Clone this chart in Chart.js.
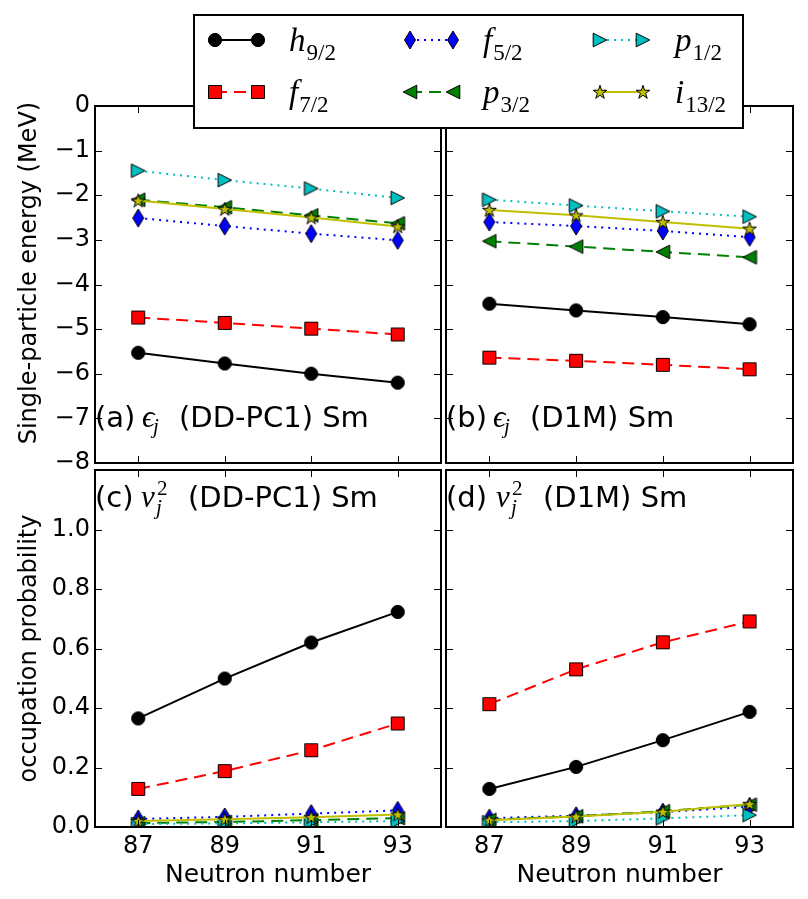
<!DOCTYPE html>
<html><head><meta charset="utf-8">
<script src="https://cdn.jsdelivr.net/npm/chart.js@4"></script>
<style>
html,body{margin:0;padding:0;background:#fff;width:808px;height:899px;overflow:hidden}
canvas{position:absolute;left:0;top:0}
</style></head><body>
<canvas id="pa" width="808" height="899"></canvas>
<canvas id="pb" width="808" height="899"></canvas>
<canvas id="pc" width="808" height="899"></canvas>
<canvas id="pd" width="808" height="899"></canvas>
<script>
// ---------------- data ----------------
const neutrons = [87, 89, 91, 93];
const xTicks = [87, 89, 91, 93];
const energyTicks = [-8, -7, -6, -5, -4, -3, -2, -1, 0];
const occTicks = [0, 0.2, 0.4, 0.6, 0.8, 1.0];
const legendMain = ['h', 'f', 'f', 'p', 'p', 'i'];
const legendSub = ['9/2', '7/2', '5/2', '3/2', '1/2', '13/2'];
const panelTags = ['(a)', '(b)', '(c)', '(d)'];
const panelModels = ['(DD-PC1) Sm', '(D1M) Sm', '(DD-PC1) Sm', '(D1M) Sm'];
const energyTitle = 'Single-particle energy (MeV)';
const occTitle = 'occupation probability';
const xTitle = 'Neutron number';

// (a) single-particle energies, DD-PC1
const eDDPC1_h92  = [-5.53, -5.77, -6.00, -6.20];
const eDDPC1_f72  = [-4.74, -4.86, -4.99, -5.12];
const eDDPC1_f52  = [-2.51, -2.69, -2.86, -3.01];
const eDDPC1_p32  = [-2.10, -2.27, -2.45, -2.63];
const eDDPC1_p12  = [-1.45, -1.66, -1.85, -2.06];
const eDDPC1_i132 = [-2.12, -2.31, -2.50, -2.70];
// (b) single-particle energies, D1M
const eD1M_h92  = [-4.43, -4.58, -4.73, -4.89];
const eD1M_f72  = [-5.64, -5.71, -5.80, -5.90];
const eD1M_f52  = [-2.60, -2.69, -2.80, -2.94];
const eD1M_p32  = [-3.03, -3.15, -3.27, -3.39];
const eD1M_p12  = [-2.10, -2.23, -2.36, -2.48];
const eD1M_i132 = [-2.33, -2.45, -2.60, -2.75];
// (c) occupation probabilities, DD-PC1
const vDDPC1_h92  = [0.365, 0.499, 0.620, 0.723];
const vDDPC1_f72  = [0.128, 0.188, 0.258, 0.348];
const vDDPC1_f52  = [0.027, 0.034, 0.045, 0.056];
const vDDPC1_p32  = [0.013, 0.017, 0.023, 0.030];
const vDDPC1_p12  = [0.010, 0.012, 0.016, 0.020];
const vDDPC1_i132 = [0.020, 0.026, 0.033, 0.042];
// (d) occupation probabilities, D1M
const vD1M_h92  = [0.128, 0.202, 0.292, 0.387];
const vD1M_f72  = [0.413, 0.530, 0.621, 0.691];
const vD1M_f52  = [0.030, 0.038, 0.050, 0.068];
const vD1M_p32  = [0.024, 0.036, 0.053, 0.075];
const vD1M_p12  = [0.016, 0.020, 0.029, 0.040];
const vD1M_i132 = [0.023, 0.035, 0.051, 0.077];

// ---------------- markers ----------------
function mk(w, h, draw) {
  const c = document.createElement('canvas');
  c.width = w; c.height = h;
  const g = c.getContext('2d');
  g.lineWidth = 1; g.strokeStyle = '#000'; g.lineJoin = 'miter';
  draw(g, w / 2, h / 2);
  return c;
}
function poly(g, pts, fill) {
  g.beginPath(); g.moveTo(pts[0][0], pts[0][1]);
  for (let i = 1; i < pts.length; i++) g.lineTo(pts[i][0], pts[i][1]);
  g.closePath(); g.fillStyle = fill; g.fill(); g.stroke();
}
const mCircle = mk(16, 16, (g, x, y) => { g.beginPath(); g.arc(x, y, 6.6, 0, Math.PI * 2); g.fillStyle = '#000'; g.fill(); g.stroke(); });
const mSquare = mk(16, 16, (g, x, y) => poly(g, [[x-6.5,y-6.5],[x+6.5,y-6.5],[x+6.5,y+6.5],[x-6.5,y+6.5]], '#ff0000'));
const mDiamond = mk(14, 20, (g, x, y) => poly(g, [[x,y-9],[x+5.5,y],[x,y+9],[x-5.5,y]], '#0000ff'));
const mTriL = mk(16, 16, (g, x, y) => poly(g, [[x-6.8,y],[x+6.8,y-6.8],[x+6.8,y+6.8]], '#008000'));
const mTriR = mk(16, 16, (g, x, y) => poly(g, [[x+6.8,y],[x-6.8,y-6.8],[x-6.8,y+6.8]], '#00bfbf'));
const mStar = mk(18, 18, (g, x, y) => {
  const pts = [];
  for (let k = 0; k < 10; k++) {
    const r = k % 2 === 0 ? 7.2 : 7.2 * 0.381966;
    const a = -Math.PI / 2 + k * Math.PI / 5;
    pts.push([x + r * Math.cos(a), y + 0.5 + r * Math.sin(a)]);
  }
  poly(g, pts, '#bfbf00');
});

const styles = [
  { color: '#000000', dash: [], marker: mCircle },
  { color: '#ff0000', dash: [12, 7], marker: mSquare },
  { color: '#0000ff', dash: [2, 5], marker: mDiamond },
  { color: '#008000', dash: [12, 7], marker: mTriL },
  { color: '#00bfbf', dash: [2, 5], marker: mTriR },
  { color: '#bfbf00', dash: [], marker: mStar },
];

// ---------------- text helpers ----------------
const SANS = "'DejaVu Sans', sans-serif";
const SERIF = "'Liberation Serif', 'DejaVu Serif', serif";

function drawAnnotation(ctx, idx) {
  const left = idx % 2 === 0 ? 95 : 446;
  const base = idx < 2 ? 427 : 507;
  ctx.fillStyle = '#000';
  ctx.textBaseline = 'alphabetic';
  ctx.textAlign = 'left';
  ctx.font = '29px ' + SANS;
  ctx.fillText(panelTags[idx], left, base);
  if (idx < 2) {
    ctx.font = 'italic 31px ' + SERIF;
    ctx.fillText('\u03f5', left + 47, base);
    ctx.font = 'italic 21px ' + SERIF;
    ctx.fillText('j', left + 58, base + 6);
    ctx.font = '29px ' + SANS;
    ctx.fillText(panelModels[idx], left + 84, base);
  } else {
    const vx = idx === 2 ? left + 46 : left + 50;
    ctx.font = 'italic 31px ' + SERIF;
    ctx.fillText('v', vx, base);
    ctx.font = 'italic 21px ' + SERIF;
    ctx.fillText('j', vx + 15, base + 7);
    ctx.font = '21px ' + SERIF;
    ctx.fillText('2', vx + 16, base - 12);
    ctx.font = '29px ' + SANS;
    ctx.fillText(panelModels[idx], idx === 2 ? left + 93 : left + 97, base);
  }
}

function drawLegend(ctx) {
  const colX = [215, 410, 600];
  const textX = [289, 483, 675];
  const rowY = [40, 92];
  ctx.save();
  ctx.fillStyle = '#fff';
  ctx.fillRect(194, 15, 549, 113);
  ctx.lineWidth = 2; ctx.strokeStyle = '#000';
  ctx.strokeRect(194, 15, 549, 113);
  for (let i = 0; i < 6; i++) {
    const col = Math.floor(i / 2), row = i % 2;
    const x0 = colX[col], x1 = x0 + 43, y = rowY[row];
    const s = styles[i];
    ctx.beginPath();
    ctx.setLineDash(s.dash);
    ctx.lineWidth = 2; ctx.strokeStyle = s.color;
    ctx.moveTo(x0, y); ctx.lineTo(x1, y); ctx.stroke();
    ctx.setLineDash([]);
    const m = s.marker;
    ctx.drawImage(m, Math.round(x0 - m.width / 2), Math.round(y - m.height / 2));
    ctx.drawImage(m, Math.round(x1 - m.width / 2), Math.round(y - m.height / 2));
    ctx.fillStyle = '#000';
    ctx.textBaseline = 'alphabetic'; ctx.textAlign = 'left';
    ctx.font = 'italic 33px ' + SERIF;
    ctx.fillText(legendMain[i], textX[col], y + 11);
    const w = ctx.measureText(legendMain[i]).width;
    ctx.font = '23px ' + SERIF;
    ctx.fillText(legendSub[i], textX[col] + w + 1, y + 20);
  }
  ctx.restore();
}

const deco = {
  id: 'deco',
  afterDatasetsDraw(chart, args, o) {
    const { ctx, chartArea: a, scales } = chart;
    ctx.save();
    ctx.strokeStyle = '#000'; ctx.lineWidth = 1;
    ctx.beginPath();
    for (const t of scales.x.ticks) {
      const px = Math.round(scales.x.getPixelForValue(t.value)) + 0.5;
      ctx.moveTo(px, a.top); ctx.lineTo(px, a.top + 7);
      ctx.moveTo(px, a.bottom); ctx.lineTo(px, a.bottom - 7);
    }
    for (const t of scales.y.ticks) {
      const py = Math.round(scales.y.getPixelForValue(t.value)) + 0.5;
      ctx.moveTo(a.left, py); ctx.lineTo(a.left + 7, py);
      ctx.moveTo(a.right, py); ctx.lineTo(a.right - 7, py);
    }
    ctx.stroke();
    ctx.lineWidth = 2;
    ctx.strokeRect(a.left, a.top, a.right - a.left, a.bottom - a.top);
    drawAnnotation(ctx, o.idx);
    ctx.restore();
  },
  afterDraw(chart, args, o) { if (o.legend) drawLegend(chart.ctx); }
};

function minusFmt(v) { return v < 0 ? '\u2212' + Math.abs(v) : String(v); }

function makeChart(id, idx, series) {
  const isLeft = idx % 2 === 0, isTop = idx < 2;
  const pad = {
    left: isLeft ? 0 : 446,
    right: isLeft ? 808 - 441 : 808 - 793,
    top: isTop ? 106 : 470,
    bottom: isTop ? 899 - 463 : 0
  };
  return new Chart(document.getElementById(id), {
    type: 'line',
    data: {
      datasets: series.map((vals, i) => ({
        label: legendMain[i] + legendSub[i],
        data: neutrons.map((n, k) => ({ x: n, y: vals[k] })),
        borderColor: styles[i].color,
        backgroundColor: styles[i].color,
        borderWidth: 2,
        borderDash: styles[i].dash,
        pointStyle: styles[i].marker,
        pointRadius: 7,
        pointHoverRadius: 7,
        fill: false,
        tension: 0,
        clip: 0,
        order: 5 - i
      }))
    },
    options: {
      responsive: false, animation: false, devicePixelRatio: 1, events: [],
      layout: { padding: pad },
      plugins: { legend: { display: false }, tooltip: { enabled: false }, deco: { idx: idx, legend: idx === 3 } },
      scales: {
        x: {
          type: 'linear', min: 86, max: 94,
          afterBuildTicks: s => { s.ticks = xTicks.map(v => ({ value: v })); },
          afterFit: s => { s.height = isTop ? 0 : 72; },
          grid: { display: false, drawTicks: false },
          border: { display: false },
          ticks: { display: !isTop, padding: 5, color: '#000', font: { family: SANS, size: 24 }, callback: v => String(v), maxRotation: 0, autoSkip: false },
          title: { display: !isTop, text: xTitle, color: '#000', font: { family: SANS, size: 25 }, padding: { top: 0, bottom: 9 } }
        },
        y: {
          type: 'linear',
          min: isTop ? -8 : 0, max: isTop ? 0 : 1.2,
          afterBuildTicks: s => { s.ticks = (isTop ? energyTicks : occTicks).map(v => ({ value: v })); },
          afterFit: s => { s.width = isLeft ? 95 : 0; },
          grid: { display: false, drawTicks: false },
          border: { display: false },
          ticks: { display: isLeft, padding: 5, color: '#000', font: { family: SANS, size: 24 }, autoSkip: false,
                   callback: v => isTop ? minusFmt(v) : v.toFixed(1) },
          title: { display: isLeft, text: isTop ? '   ' + energyTitle : occTitle, color: '#000', font: { family: SANS, size: 24 }, padding: { top: 15, bottom: 0 } }
        }
      }
    },
    plugins: [deco]
  });
}

makeChart('pa', 0, [eDDPC1_h92, eDDPC1_f72, eDDPC1_f52, eDDPC1_p32, eDDPC1_p12, eDDPC1_i132]);
makeChart('pb', 1, [eD1M_h92, eD1M_f72, eD1M_f52, eD1M_p32, eD1M_p12, eD1M_i132]);
makeChart('pc', 2, [vDDPC1_h92, vDDPC1_f72, vDDPC1_f52, vDDPC1_p32, vDDPC1_p12, vDDPC1_i132]);
makeChart('pd', 3, [vD1M_h92, vD1M_f72, vD1M_f52, vD1M_p32, vD1M_p12, vD1M_i132]);
</script>
</body></html>
